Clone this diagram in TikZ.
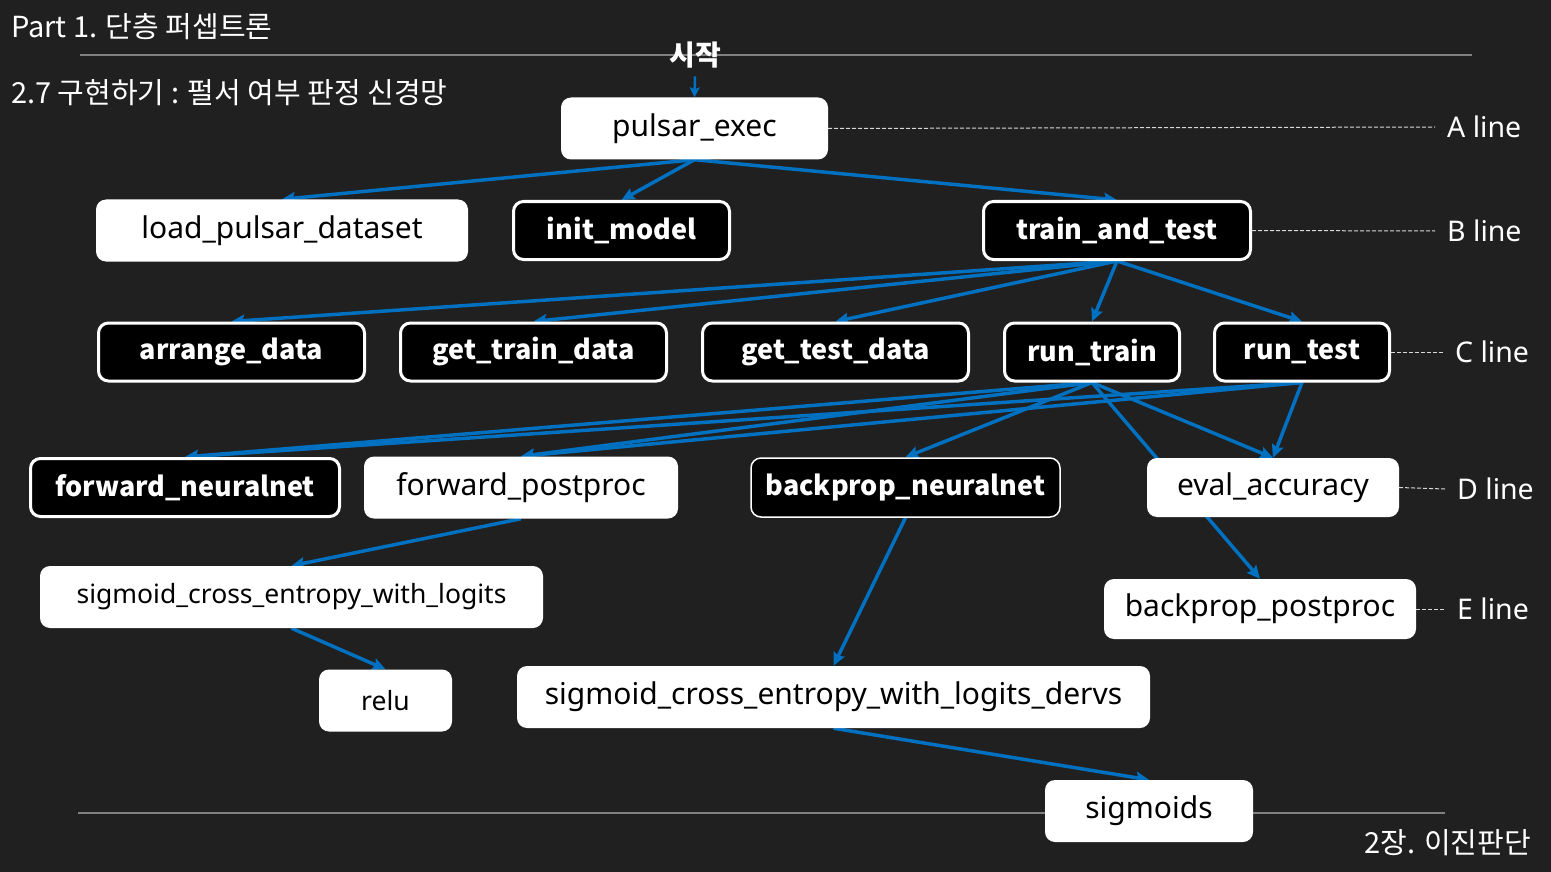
\documentclass[tikz,border=0pt]{standalone}
\usepackage{fontspec}
\setmainfont{Noto Sans}
\newfontfamily\kofont{Noto Sans CJK KR}
\usepackage{tikz}
\usetikzlibrary{positioning, arrows.meta, backgrounds}

\definecolor{slidebg}{RGB}{32,32,32}
\definecolor{callblue}{RGB}{0,112,192}
\definecolor{rulegray}{RGB}{128,128,128}

\tikzset{
	func/.style={rectangle, rounded corners=10pt, minimum height=62pt, inner sep=0pt, font=\fontsize{30}{34}\selectfont},
	func white/.style={func, fill=white, text=black},
	func black/.style={func, fill=black, draw=white, line width=3pt, minimum height=58pt, text=white, font=\kofont\fontsize{27}{32}\selectfont\bfseries},
	func small/.style={font=\fontsize{26.5}{30}\selectfont},
	call/.style={->, color=callblue, line width=3.5pt},
	guide/.style={draw=white!85!black, line width=1pt, dash pattern=on 4pt off 2pt},
	line label/.style={anchor=west, inner xsep=12pt, text=white, font=\fontsize{28.5}{32}\selectfont},
	slidetitle/.style={text=white, inner sep=0pt, font=\kofont\fontsize{29}{32}\selectfont},
}

\begin{document}
\begin{tikzpicture}[x=1pt, y=-1pt, on grid, >={Stealth[length=13pt, width=12pt, inset=2pt]}]
	\useasboundingbox (0,0) rectangle (1551,872);

	% titles
	\node[slidetitle, anchor=west] (part) at (11,27) {Part 1. 단층 퍼셉트론};
	\node[slidetitle, anchor=west] (section) at (11,93) {2.7 구현하기 : 펄서 여부 판정 신경망};
	\node[slidetitle, anchor=east, font=\kofont\fontsize{29}{34}\selectfont] (chapter) at (1531,843) {2장. 이진판단};

	% A line
	\node[text=white, inner ysep=8pt, font=\kofont\fontsize{28}{30}\selectfont\bfseries] (start) at (695,55) {시작};
	\node[func white, minimum width=267pt] (pulsar) at (694.5,128.5) {pulsar\_exec};

	% B line
	\node[func white, minimum width=372pt] (load) at (282,230.5) {load\_pulsar\_dataset};
	\node[func black, minimum width=216pt, right=339.5pt of load] (init) {init\_model};
	\node[func black, minimum width=267pt, right=495.5pt of init] (train) {train\_and\_test};

	% C line
	\node[func black, minimum width=266pt] (arrange) at (231.5,352) {arrange\_data};
	\node[func black, minimum width=266pt, right=302pt of arrange] (gettrain) {get\_train\_data};
	\node[func black, minimum width=266pt, right=302pt of gettrain] (gettest) {get\_test\_data};
	\node[func black, minimum width=175pt, right=256.5pt of gettest] (runtrain) {run\_train};
	\node[func black, minimum width=175pt, right=210pt of runtrain] (runtest) {run\_test};

	% D line
	\node[func black, minimum width=309pt] (fwdnn) at (185,487.5) {forward\_neuralnet};
	\node[func white, minimum width=314pt, right=336pt of fwdnn] (fwdpp) {forward\_postproc};
	\node[func black, line width=1.5pt, minimum width=309pt, minimum height=59pt, right=384.5pt of fwdpp] (bpnn) {backprop\_neuralnet};
	\node[func white, minimum width=252pt, minimum height=59pt, right=367.5pt of bpnn] (evalacc) {eval\_accuracy};

	% E line
	\node[func white, minimum width=312pt, minimum height=60pt] (bpp) at (1260,609) {backprop\_postproc};

	% lower calls
	\node[func white, func small, minimum width=503pt] (sce) at (291.5,597) {sigmoid\_cross\_entropy\_with\_logits};
	\node[func white, func small, minimum width=133pt] (relu) at (385.5,700.5) {relu};
	\node[func white, minimum width=633pt] (dervs) at (833.5,697) {sigmoid\_cross\_entropy\_with\_logits\_dervs};
	\node[func white, minimum width=208pt] (sigmoids) at (1149,811) {sigmoids};

	% line labels
	\node[line label] (aline) at (1435,127) {A line};
	\node[line label] (bline) at (1435,231) {B line};
	\node[line label] (cline) at (1443,352) {C line};
	\node[line label] (dline) at (1445,489) {D line};
	\node[line label] (eline) at (1445,609) {E line};

	\draw[guide] (pulsar.east) -- (aline.west);
	\draw[guide] (train.east) -- (bline.west);
	\draw[guide] (runtest.east) -- (cline.west);
	\draw[guide] (evalacc.east) -- (dline.west);
	\draw[guide] (bpp.east) -- (eline.west);

	\draw[call, line width=2.5pt, -{Stealth[length=10pt, width=10pt, inset=2pt]}] (start.south) -- (pulsar.north);

	\begin{pgfonlayer}{background}
		\fill[slidebg] (0,0) rectangle (1551,872);
		\draw[rulegray, line width=1.5pt] (80,55) -- (1472,55);
		\draw[rulegray, line width=1.5pt] (78,813) -- (1445,813);

		\path[call]
		(pulsar.south) edge (load.north)
		(pulsar.south) edge (init.north)
		(pulsar.south) edge (train.north)
		(train.south) edge (arrange.north)
		(train.south) edge (gettrain.north)
		(train.south) edge (gettest.north)
		(train.south) edge (runtrain.north)
		(train.south) edge (runtest.north)
		(runtrain.south) edge (fwdnn.north)
		(runtrain.south) edge (fwdpp.north)
		(runtrain.south) edge (bpnn.north)
		(runtrain.south) edge (evalacc.north)
		(runtrain.south) edge (bpp.north)
		(runtest.south) edge (fwdnn.north)
		(runtest.south) edge (fwdpp.north)
		(runtest.south) edge (evalacc.north)
		(fwdpp.south) edge (sce.north)
		(sce.south) edge (relu.north)
		(bpnn.south) edge (dervs.north)
		(dervs.south) edge (sigmoids.north);
	\end{pgfonlayer}
\end{tikzpicture}
\end{document}
